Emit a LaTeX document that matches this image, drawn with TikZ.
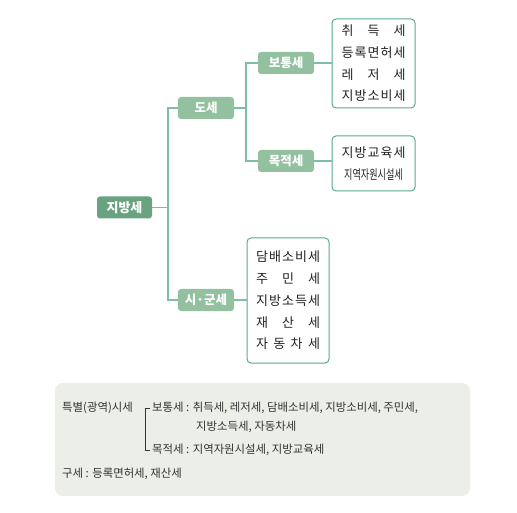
\documentclass[tikz,border=0pt]{standalone}
\usepackage{fontspec}
\usepackage{graphicx}
\setmainfont{Noto Sans CJK KR}
\definecolor{darkg}{HTML}{68A27E}
\definecolor{lightg}{HTML}{93C1A0}
\definecolor{conng}{HTML}{7DBFA4}
\definecolor{boxg}{HTML}{5BAA88}
\definecolor{notebg}{HTML}{ECEFE8}
\definecolor{txt}{HTML}{222222}
\definecolor{ntxt}{HTML}{333333}
\newcommand{\jl}[1]{\makebox[64pt][s]{#1}}
\begin{document}
\begin{tikzpicture}[x=1pt,y=-1pt,
  darkbox/.style={fill=darkg,rounded corners=3pt,text=white,font=\fontsize{13}{14}\selectfont\bfseries,minimum width=55pt,minimum height=22pt,inner sep=0pt},
  lightbox/.style={fill=lightg,rounded corners=3pt,text=white,font=\fontsize{12.5}{14}\selectfont\bfseries,minimum width=56pt,minimum height=22pt,inner sep=0pt},
  conn/.style={draw=conng,line width=1.2pt},
  listbox/.style={draw=boxg,line width=1pt,rounded corners=4pt,fill=white,text=txt,align=center,inner sep=0pt,font=\fontsize{13}{21.7}\selectfont},
  note/.style={anchor=west,inner sep=0pt,text=ntxt,font=\fontsize{11.4}{13}\selectfont},
  brk/.style={draw=ntxt,line width=0.8pt}]
\useasboundingbox (0,0) rectangle (517,513);
% note background
\fill[notebg,rounded corners=8pt] (55,383) rectangle (470,496);

\node[darkbox] (jb) at (124.5,207.5) {지방세};
\node[lightbox] (ds) at (206,108) {도세};
\node[lightbox] (sg) at (206,300) {시·군세};
\node[lightbox] (bt) at (286,63) {보통세};
\node[lightbox] (mj) at (286,161) {목적세};

\node[listbox,minimum width=83pt,minimum height=89pt] (l1) at (373.5,63.5)
  {\jl{취\hfill 득\hfill 세}\\ \jl{등\hfill 록\hfill 면\hfill 허\hfill 세}\\ \jl{레\hfill 저\hfill 세}\\ \jl{지\hfill 방\hfill 소\hfill 비\hfill 세}};
\node[listbox,minimum width=83pt,minimum height=55pt] (l2) at (373.5,163.5)
  {\jl{지\hfill 방\hfill 교\hfill 육\hfill 세}\\ \makebox[64pt]{\scalebox{0.7}[1]{\fontsize{13}{13}\selectfont 지역자원시설세}}};
\node[listbox,minimum width=82pt,minimum height=125pt] (l3) at (288,300.5)
  {\jl{담\hfill 배\hfill 소\hfill 비\hfill 세}\\ \jl{주\hfill 민\hfill 세}\\ \jl{지\hfill 방\hfill 소\hfill 득\hfill 세}\\ \jl{재\hfill 산\hfill 세}\\ \jl{자\hfill 동\hfill 차\hfill 세}};

\coordinate (b1) at (168,207.5);
\coordinate (b2) at (246,108);
\draw[conn] (jb.east) -- (b1);
\draw[conn] (ds.west) -| (b1) |- (sg.west);
\draw[conn] (ds.east) -- (b2);
\draw[conn] (bt.west) -| (b2) |- (mj.west);
\draw[conn] (bt.east) -- (bt.east -| l1.west);
\draw[conn] (mj.east) -- (mj.east -| l2.west);
\draw[conn] (sg.east) -- (sg.east -| l3.west);

% note text
\node[note] (n0) at (62,408) {특별(광역)시세};
\node[note] (n1) at (152,408) {보통세 : 취득세, 레저세, 담배소비세, 지방소비세, 주민세,};
\node[note] (n2) at (196,427) {지방소득세, 자동차세};
\node[note] (n3) at (152,450) {목적세 : 지역자원시설세, 지방교육세};
\node[note] (n4) at (62,474) {구세 : 등록면허세, 재산세};
\draw[brk] ([xshift=-2pt]n1.west) -- ++(-5,0) |- ([xshift=-2pt]n3.west);
\end{tikzpicture}
\end{document}
